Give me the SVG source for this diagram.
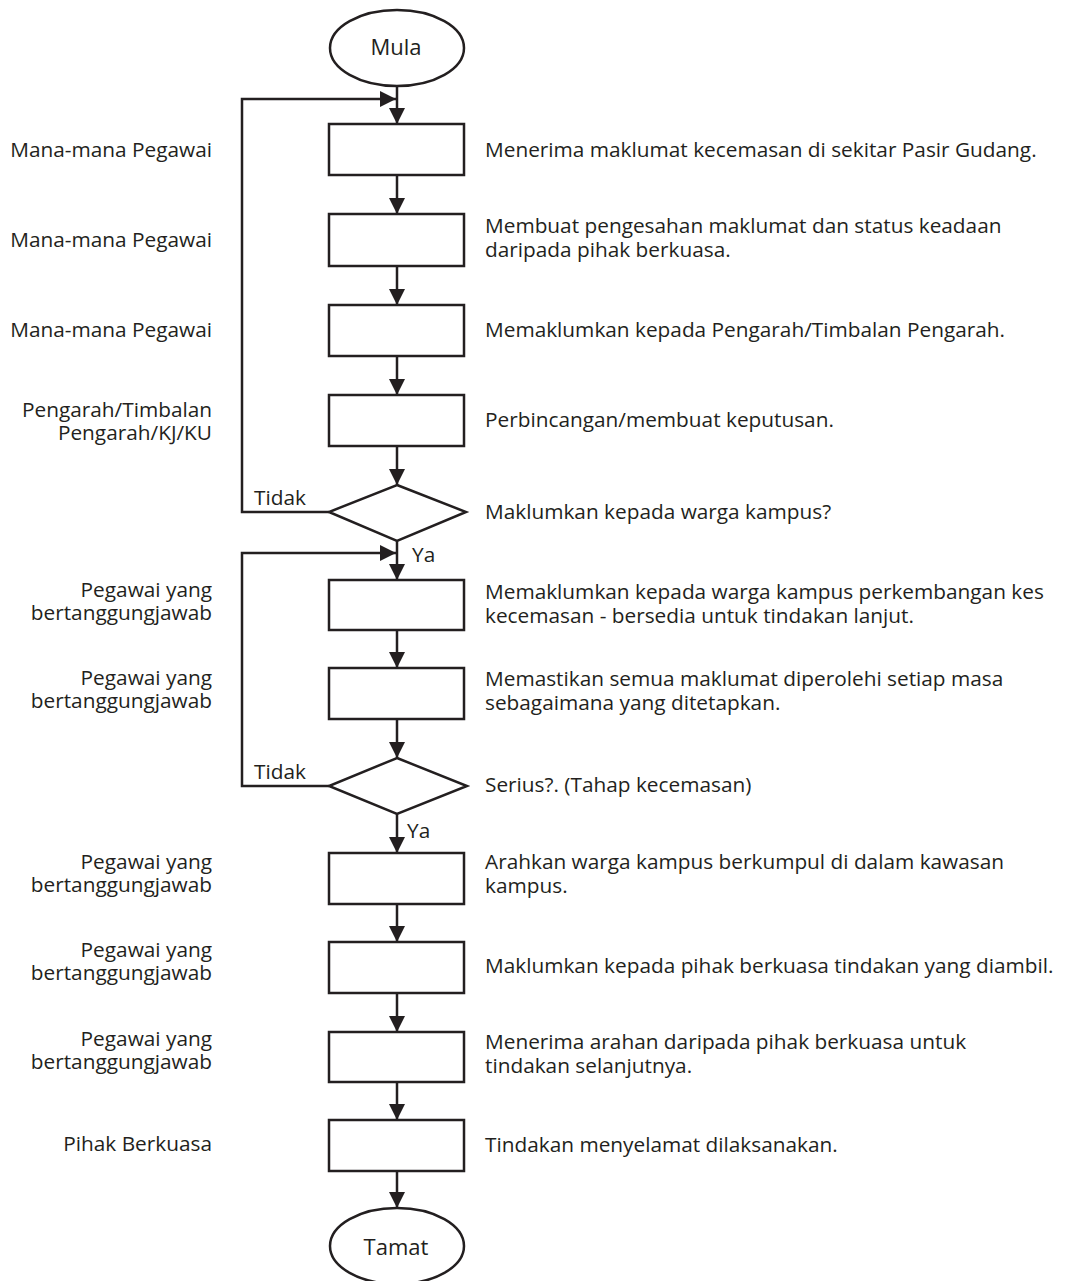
<svg xmlns="http://www.w3.org/2000/svg" width="1067" height="1281" viewBox="0 0 1067 1281">
<defs>
<marker id="arr" viewBox="0 0 16 16" markerWidth="16" markerHeight="16" refX="16" refY="8" orient="auto" markerUnits="userSpaceOnUse">
<path d="M0,0 L16,8 L0,16 Z" fill="#231f20"/>
</marker>
<style>
.s{fill:#fff;stroke:#231f20;stroke-width:2.5}
.c{fill:none;stroke:#231f20;stroke-width:2.5}
text{font-family:"Open Sans","DejaVu Sans",sans-serif;font-size:20.8px;fill:#231f20}
.l{text-anchor:end}
.t{font-size:22px;text-anchor:middle}
</style>
</defs>
<rect width="1067" height="1281" fill="#fff"/>
<g id="connectors">
<line class="c" x1="397" y1="86" x2="397" y2="124" marker-end="url(#arr)"/>
<line class="c" x1="397" y1="175" x2="397" y2="214" marker-end="url(#arr)"/>
<line class="c" x1="397" y1="266" x2="397" y2="305" marker-end="url(#arr)"/>
<line class="c" x1="397" y1="356" x2="397" y2="395" marker-end="url(#arr)"/>
<line class="c" x1="397" y1="446" x2="397" y2="485" marker-end="url(#arr)"/>
<polyline class="c" points="329,512 242,512 242,99 396,99" marker-end="url(#arr)"/>
<line class="c" x1="397" y1="541" x2="397" y2="580" marker-end="url(#arr)"/>
<line class="c" x1="397" y1="630" x2="397" y2="668" marker-end="url(#arr)"/>
<line class="c" x1="397" y1="719" x2="397" y2="758" marker-end="url(#arr)"/>
<polyline class="c" points="329,786 242,786 242,553 396,553" marker-end="url(#arr)"/>
<line class="c" x1="397" y1="814" x2="397" y2="853" marker-end="url(#arr)"/>
<line class="c" x1="397" y1="904" x2="397" y2="942" marker-end="url(#arr)"/>
<line class="c" x1="397" y1="993" x2="397" y2="1032" marker-end="url(#arr)"/>
<line class="c" x1="397" y1="1082" x2="397" y2="1120" marker-end="url(#arr)"/>
<line class="c" x1="397" y1="1171" x2="397" y2="1208" marker-end="url(#arr)"/>
<text x="254" y="505">Tidak</text>
<text x="412" y="562">Ya</text>
<text x="254" y="779">Tidak</text>
<text x="407" y="838">Ya</text>
</g>
<g id="mula"><ellipse class="s" cx="397" cy="48" rx="67" ry="38"/><text class="t" x="396" y="55">Mula</text></g>
<g id="step1"><rect class="s" x="329" y="124" width="135" height="51"/>
<text class="l" x="212" y="157">Mana-mana Pegawai</text>
<text x="485" y="157">Menerima maklumat kecemasan di sekitar Pasir Gudang.</text></g>
<g id="step2"><rect class="s" x="329" y="214" width="135" height="52"/>
<text class="l" x="212" y="247">Mana-mana Pegawai</text>
<text x="485" y="233">Membuat pengesahan maklumat dan status keadaan<tspan x="485" dy="24">daripada pihak berkuasa.</tspan></text></g>
<g id="step3"><rect class="s" x="329" y="305" width="135" height="51"/>
<text class="l" x="212" y="337">Mana-mana Pegawai</text>
<text x="485" y="337">Memaklumkan kepada Pengarah/Timbalan Pengarah.</text></g>
<g id="step4"><rect class="s" x="329" y="395" width="135" height="51"/>
<text class="l" x="212" y="417">Pengarah/Timbalan<tspan x="212" dy="23">Pengarah/KJ/KU</tspan></text>
<text x="485" y="427">Perbincangan/membuat keputusan.</text></g>
<g id="decision1"><polygon class="s" points="397,485 466,512 397,541 329,512"/>
<text x="485" y="519">Maklumkan kepada warga kampus?</text></g>
<g id="step5"><rect class="s" x="329" y="580" width="135" height="50"/>
<text class="l" x="212" y="597">Pegawai yang<tspan x="212" dy="23">bertanggungjawab</tspan></text>
<text x="485" y="599">Memaklumkan kepada warga kampus perkembangan kes<tspan x="485" dy="24">kecemasan - bersedia untuk tindakan lanjut.</tspan></text></g>
<g id="step6"><rect class="s" x="329" y="668" width="135" height="51"/>
<text class="l" x="212" y="685">Pegawai yang<tspan x="212" dy="23">bertanggungjawab</tspan></text>
<text x="485" y="686">Memastikan semua maklumat diperolehi setiap masa<tspan x="485" dy="24">sebagaimana yang ditetapkan.</tspan></text></g>
<g id="decision2"><polygon class="s" points="397,758 467,786 397,814 329,786"/>
<text x="485" y="792">Serius?. (Tahap kecemasan)</text></g>
<g id="step7"><rect class="s" x="329" y="853" width="135" height="51"/>
<text class="l" x="212" y="869">Pegawai yang<tspan x="212" dy="23">bertanggungjawab</tspan></text>
<text x="485" y="869">Arahkan warga kampus berkumpul di dalam kawasan<tspan x="485" dy="24">kampus.</tspan></text></g>
<g id="step8"><rect class="s" x="329" y="942" width="135" height="51"/>
<text class="l" x="212" y="957">Pegawai yang<tspan x="212" dy="23">bertanggungjawab</tspan></text>
<text x="485" y="973">Maklumkan kepada pihak berkuasa tindakan yang diambil.</text></g>
<g id="step9"><rect class="s" x="329" y="1032" width="135" height="50"/>
<text class="l" x="212" y="1046">Pegawai yang<tspan x="212" dy="23">bertanggungjawab</tspan></text>
<text x="485" y="1049">Menerima arahan daripada pihak berkuasa untuk<tspan x="485" dy="24">tindakan selanjutnya.</tspan></text></g>
<g id="step10"><rect class="s" x="329" y="1120" width="135" height="51"/>
<text class="l" x="212" y="1151">Pihak Berkuasa</text>
<text x="485" y="1152">Tindakan menyelamat dilaksanakan.</text></g>
<g id="tamat"><ellipse class="s" cx="397" cy="1246" rx="67" ry="38"/><text class="t" x="396" y="1255">Tamat</text></g>
</svg>
